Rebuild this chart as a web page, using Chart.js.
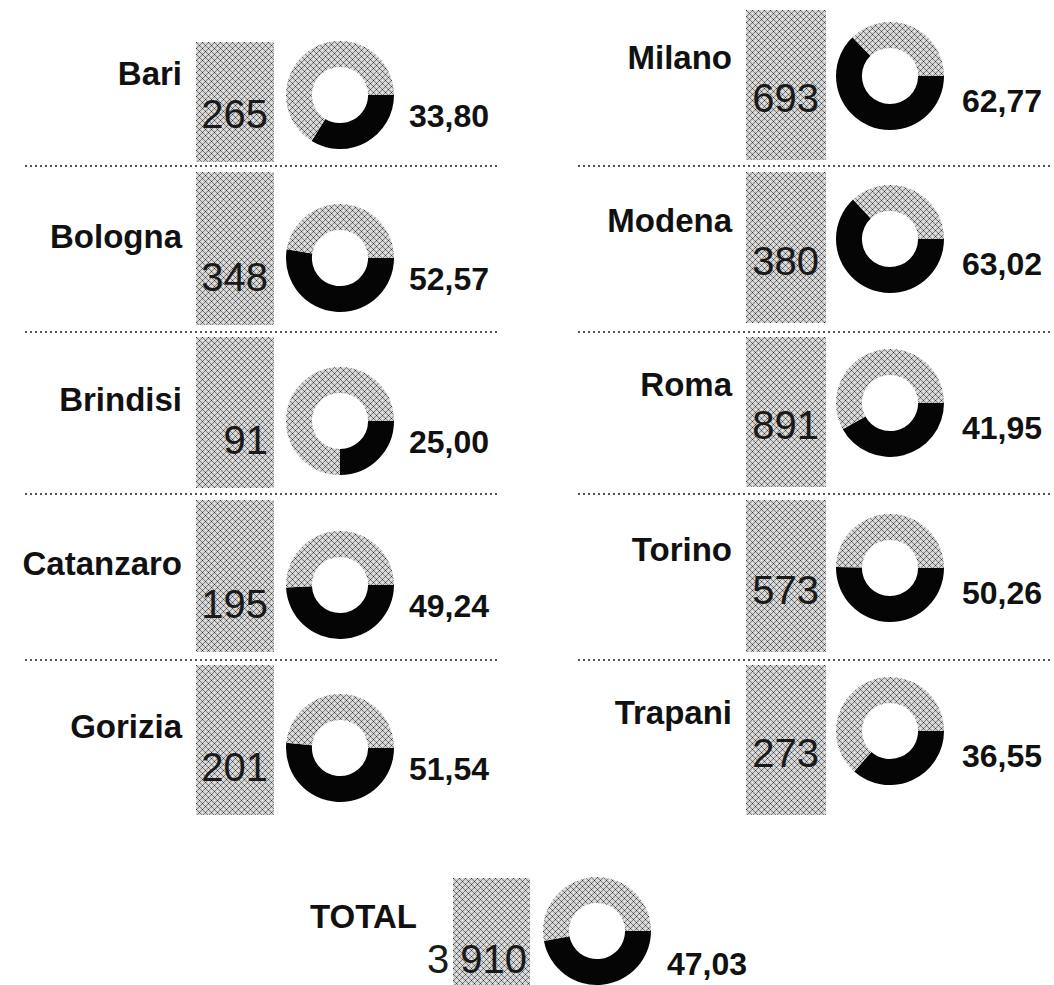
<!DOCTYPE html>
<html>
<head>
<meta charset="utf-8">
<script src="https://cdn.jsdelivr.net/npm/chart.js@4.4.1/dist/chart.umd.min.js"></script>
<style>
  html, body { margin: 0; padding: 0; background: #fff; }
  #board { position: relative; width: 1054px; height: 985px; overflow: hidden;
           font-family: "Liberation Sans", Arial, Helvetica, sans-serif; }
  .txt { position: absolute; white-space: nowrap; line-height: 1; }
  .lbl { font-weight: bold; font-size: 33px; color: #111; }
  .num { font-size: 40px; color: #1a1a1a; }
  .pct { font-weight: bold; font-size: 32px; color: #111; }
  .box { position: absolute; image-rendering: pixelated; }
  .sep { position: absolute; height: 2px;
         background: repeating-linear-gradient(90deg, #555 0 2px, transparent 2px 5px); }
  canvas.donut { position: absolute; }
</style>
</head>
<body>
<div id="board"></div>
<script>
// data
const leftCities = ['Bari', 'Bologna', 'Brindisi', 'Catanzaro', 'Gorizia'];
const leftCounts = [265, 348, 91, 195, 201];
const leftShares = [33.80, 52.57, 25.00, 49.24, 51.54];

const rightCities = ['Milano', 'Modena', 'Roma', 'Torino', 'Trapani'];
const rightCounts = [693, 380, 891, 573, 273];
const rightShares = [62.77, 63.02, 41.95, 50.26, 36.55];

const totalLabel = 'TOTAL';
const totalCount = 3910;
const totalShare = 47.03;

// layout
const leftTops = [42, 172, 337, 500, 665];
const leftBottoms = [162, 325, 488, 652, 815];
const rightTops = [10, 172, 337, 500, 665];
const rightBottoms = [160, 323, 487, 652, 815];
const sepYs = [165, 331, 493, 659];

const board = document.getElementById('board');

// grey crosshatch tile, used for boxes and the rest of each donut
const tile = document.createElement('canvas');
tile.width = 6; tile.height = 6;
const tctx = tile.getContext('2d');
tctx.fillStyle = '#d2d2d2';
tctx.fillRect(0, 0, 6, 6);
for (let x = 0; x < 6; x++) {
    for (let y = 0; y < 6; y++) {
        const a = (x - y + 6) % 6 === 0;
        const b = (x + y) % 6 === 0;
        if (a && b) {
            tctx.fillStyle = '#303030';
        } else if (a || b) {
            tctx.fillStyle = '#808080';
        } else if ((x + y) % 6 === 3 && x % 3 === 0) {
            tctx.fillStyle = '#f2f2f2';
        } else {
            continue;
        }
        tctx.fillRect(x, y, 1, 1);
    }
}
const hatch = document.createElement('canvas').getContext('2d').createPattern(tile, 'repeat');
const hatchUrl = tile.toDataURL();

function fmtCount(n) {
    return String(n).replace(/\B(?=(\d{3})+(?!\d))/g, ' ');
}
function fmtShare(v) {
    return v.toFixed(2).replace('.', ',');
}

function text(cls, str, x, baseline, fs, align) {
    const el = document.createElement('div');
    el.className = 'txt ' + cls;
    el.textContent = str;
    el.style.top = (baseline - 0.8465 * fs) + 'px';
    if (align === 'right') {
        el.style.right = (1054 - x) + 'px';
    } else {
        el.style.left = x + 'px';
    }
    board.appendChild(el);
}

function box(x1, y1, x2, y2) {
    const el = document.createElement('div');
    el.className = 'box';
    el.style.left = x1 + 'px';
    el.style.top = y1 + 'px';
    el.style.width = (x2 - x1) + 'px';
    el.style.height = (y2 - y1) + 'px';
    el.style.backgroundImage = 'url(' + hatchUrl + ')';
    board.appendChild(el);
}

function sep(x1, x2, y) {
    const el = document.createElement('div');
    el.className = 'sep';
    el.style.left = x1 + 'px';
    el.style.top = y + 'px';
    el.style.width = (x2 - x1) + 'px';
    board.appendChild(el);
}

function donut(cx, cy, share) {
    const size = 108;
    const c = document.createElement('canvas');
    c.className = 'donut';
    c.width = size;
    c.height = size;
    c.style.left = (cx - size / 2) + 'px';
    c.style.top = (cy - size / 2) + 'px';
    board.appendChild(c);
    new Chart(c, {
        type: 'doughnut',
        data: {
            labels: ['quota', 'resto'],
            datasets: [{
                data: [share, 100 - share],
                backgroundColor: ['#050505', hatch],
                borderWidth: 0,
                offset: 0,
                hoverOffset: 0
            }]
        },
        options: {
            responsive: false,
            animation: false,
            events: [],
            rotation: 90,
            cutout: '52%',
            layout: { padding: 0 },
            plugins: { legend: { display: false }, tooltip: { enabled: false } }
        }
    });
}

// left column
leftCities.forEach((city, i) => {
    const b = leftBottoms[i];
    box(196, leftTops[i], 274, b);
    text('lbl', city, 182, b - 77, 33, 'right');
    text('num', fmtCount(leftCounts[i]), 268, b - 34, 40, 'right');
    donut(340, b - 67, leftShares[i]);
    text('pct', fmtShare(leftShares[i]), 409, b - 35, 32, 'left');
});

// right column
rightCities.forEach((city, i) => {
    const b = rightBottoms[i];
    box(746, rightTops[i], 826, b);
    text('lbl', city, 732, b - 91, 33, 'right');
    text('num', fmtCount(rightCounts[i]), 819, b - 48, 40, 'right');
    donut(890, b - 84, rightShares[i]);
    text('pct', fmtShare(rightShares[i]), 962, b - 48, 32, 'left');
});

sepYs.forEach(y => {
    sep(25, 500, y);
    sep(578, 1052, y);
});

// total
box(453, 878, 530, 990);
text('lbl', totalLabel, 417, 928, 33, 'right');
text('num', fmtCount(totalCount), 527, 973, 40, 'right');
donut(597, 931, totalShare);
text('pct', fmtShare(totalShare), 667, 975, 32, 'left');
</script>
</body>
</html>
